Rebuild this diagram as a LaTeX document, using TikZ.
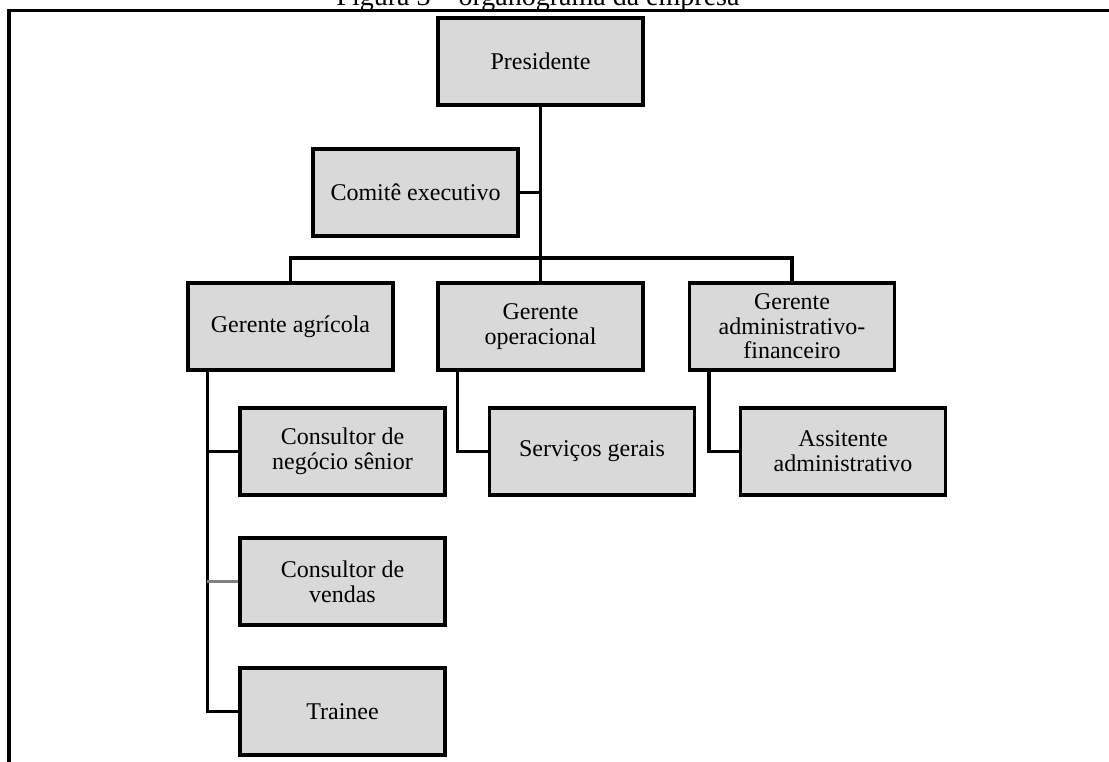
\documentclass[tikz,border=0pt]{standalone}
\usepackage{fontspec}
\setmainfont{Liberation Serif}
\tikzset{
  cargo/.style={draw, line width=2.6pt, fill=boxgray, minimum width=154pt,
    minimum height=65.5pt, align=center, inner sep=2pt,
    font=\fontsize{18pt}{18.5pt}\selectfont},
  liga/.style={line width=2.4pt},
}
\definecolor{boxgray}{HTML}{D9D9D9}
\begin{document}
\begin{tikzpicture}[x=0.75pt,y=-0.75pt]
        \useasboundingbox (0,0) rectangle (1109,762);
        % moldura e titulo
        \draw [line width=2.4pt] (1109,10.5) -| (9,762);
        \node (titulo) [anchor=base, font=\fontsize{21pt}{24pt}\selectfont]
              at (538,6) {Figura 3 -- organograma da empresa};
        % cargos
        \node (pres)    [cargo] at (540.5,61.5) {Presidente};
        \node (comite)  [cargo] at (415.5,192.5) {Comitê executivo};
        \node (gagr)    [cargo] at (290.5,326.5) {Gerente agrícola};
        \node (gop)     [cargo] at (540.5,326.5) {Gerente\\operacional};
        \node (gadm)    [cargo] at (792,326.5) {Gerente\\administrativo-\\financeiro};
        \node (csen)    [cargo] at (342.5,451.5) {Consultor de\\negócio sênior};
        \node (cven)    [cargo] at (342.5,581.5) {Consultor de\\vendas};
        \node (trainee) [cargo] at (342.5,711.5) {Trainee};
        \node (serv)    [cargo] at (592,451.5) {Serviços gerais};
        \node (assist)  [cargo] at (843,451.5) {Assitente\\administrativo};
        % ligacoes do presidente
        \draw [liga] (pres.south) -- (gop.north);
        \draw [liga] (comite.east) -- (comite.east -| pres.south);
        \coordinate (barra) at (540.5,258);
        \draw [liga] (gagr.north) |- (barra) -| (gadm.north);
        % gerente agricola
        \draw [liga] ([xshift=16pt]gagr.south west) coordinate (desce1) |- (trainee.west);
        \draw [liga] (desce1 |- csen.west) -- (csen.west);
        \draw [liga, draw=gray] (desce1 |- cven.west) -- (cven.west);
        % gerente operacional
        \draw [liga] ([xshift=16pt]gop.south west) |- (serv.west);
        % gerente administrativo
        \draw [liga] ([xshift=16pt]gadm.south west) |- (assist.west);
\end{tikzpicture}
\end{document}
